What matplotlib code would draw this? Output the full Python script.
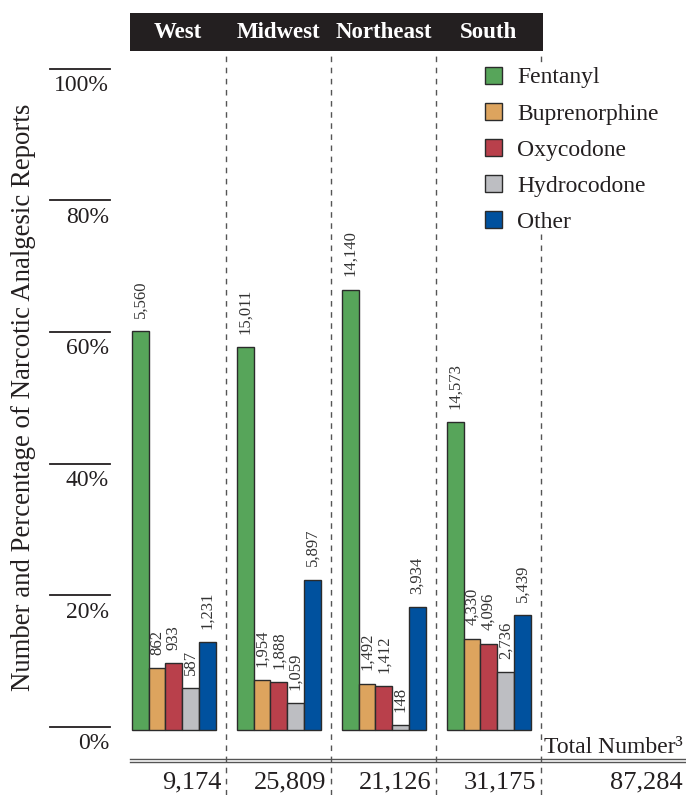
import matplotlib.pyplot as plt
from matplotlib.patches import Rectangle
from matplotlib.transforms import blended_transform_factory

plt.rcParams['font.family'] = ['Liberation Serif', 'DejaVu Serif']

regions = ['West', 'Midwest', 'Northeast', 'South']
drugs = ['Fentanyl', 'Buprenorphine', 'Oxycodone', 'Hydrocodone', 'Other']
fentanyl = [5560, 15011, 14140, 14573]
buprenorphine = [862, 1954, 1492, 4330]
oxycodone = [933, 1888, 1412, 4096]
hydrocodone = [587, 1059, 148, 2736]
other = [1231, 5897, 3934, 5439]
totals = [9174, 25809, 21126, 31175]
grand_total = 87284
yticks = [0, 20, 40, 60, 80, 100]

series = [fentanyl, buprenorphine, oxycodone, hydrocodone, other]
colors = ['#57a55a', '#dda45e', '#b9404b', '#bdbec2', '#00519e']
ink = '#231f20'

W, H = 686, 795
fig = plt.figure(figsize=(W / 100, H / 100), dpi=100)
ax = fig.add_axes([0, 0, 1, 1])
ax.axis('off')

# pixel layout: first bar starts at 132px, groups 105px apart,
# 0% sits 730px from top, 6.58px per percent
x0, pitch = 132, 105
y0, ppp = 730, 6.58
ax.set_xlim(-x0 / pitch, (W - x0) / pitch)
ax.set_ylim(-(H - y0) / ppp, y0 / ppp)


def py(px):
    # pixel row from top -> percent units
    return (y0 - px) / ppp


bw = 16.7 / pitch
seps = [i + 5 * bw + (1 - 5 * bw) / 2 for i in range(len(regions))]

handles = []
for j, (name, vals) in enumerate(zip(drugs, series)):
    xs = [i + j * bw for i in range(len(regions))]
    pct = [v / t * 100 for v, t in zip(vals, totals)]
    bars = ax.bar(xs, pct, width=bw, align='edge', color=colors[j],
                  edgecolor='#2b2b2b', linewidth=1, label=name, zorder=3)
    handles.append(bars)
    for x, p, v in zip(xs, pct, vals):
        ax.annotate(f'{v:,}', xy=(x + bw / 2, p), xytext=(0, 9.5),
                    textcoords='offset points', rotation=90,
                    ha='center', va='bottom', fontsize=12, color='#333333')

# dashed region separators
ax.vlines(seps, py(H), py(54), colors='#555555', linestyles=(0, (4, 4)),
          linewidth=1, zorder=1)

# header band with region names
left_edge = -2 / pitch
ax.add_patch(Rectangle((left_edge, py(51)), seps[-1] + 2 / pitch - left_edge,
                       py(13) - py(51), facecolor=ink, edgecolor='none',
                       zorder=4, clip_on=False))
bounds = [left_edge] + seps
for k, name in enumerate(regions):
    ax.text((bounds[k] + bounds[k + 1]) / 2, py(32), name, ha='center',
            va='center', color='white', fontsize=16.5, fontweight='bold',
            zorder=5)

# y scale drawn as short rules with labels under them
tr = blended_transform_factory(ax.transAxes, ax.transData)
for v in yticks:
    ax.plot([50 / W, 110 / W], [v + 0.5, v + 0.5], color=ink, lw=1.3,
            transform=tr, clip_on=False)
    ax.text(109 / W, v - 0.5, f'{v}%', ha='right', va='top', fontsize=17,
            color=ink, transform=tr)

fig.text(24 / W, 1 - 397 / H,
         'Number and Percentage of Narcotic Analgesic Reports',
         rotation=90, ha='center', va='center', fontsize=19.3, color=ink)

# double rule above the totals row
for yy in (759, 762):
    ax.plot([130 / W, 1], [py(yy), py(yy)], color='#555555', lw=1,
            transform=tr, clip_on=False)

ax.text(683 / W, py(753), 'Total Number³', ha='right', va='baseline',
        fontsize=17, color=ink, transform=tr)
for s, t in zip(seps, totals):
    ax.text(s - 5 / pitch, py(788), f'{t:,}', ha='right', va='baseline',
            fontsize=19, color=ink)
ax.text(683 / W, py(788), f'{grand_total:,}', ha='right', va='baseline',
        fontsize=19, color=ink, transform=tr)

leg = ax.legend(handles=handles, labels=drugs, loc='upper left',
                bbox_to_anchor=(473 / W, 1 - 55 / H),
                bbox_transform=fig.transFigure, fontsize=17,
                handlelength=0.72, handleheight=0.72, handletextpad=0.65,
                labelspacing=0.61, borderpad=0.0, frameon=True,
                facecolor='white', edgecolor='white', framealpha=1,
                fancybox=False)
leg.set_zorder(6)
for t in leg.get_texts():
    t.set_color(ink)

fig.savefig('out.png', dpi=100, facecolor='white')
